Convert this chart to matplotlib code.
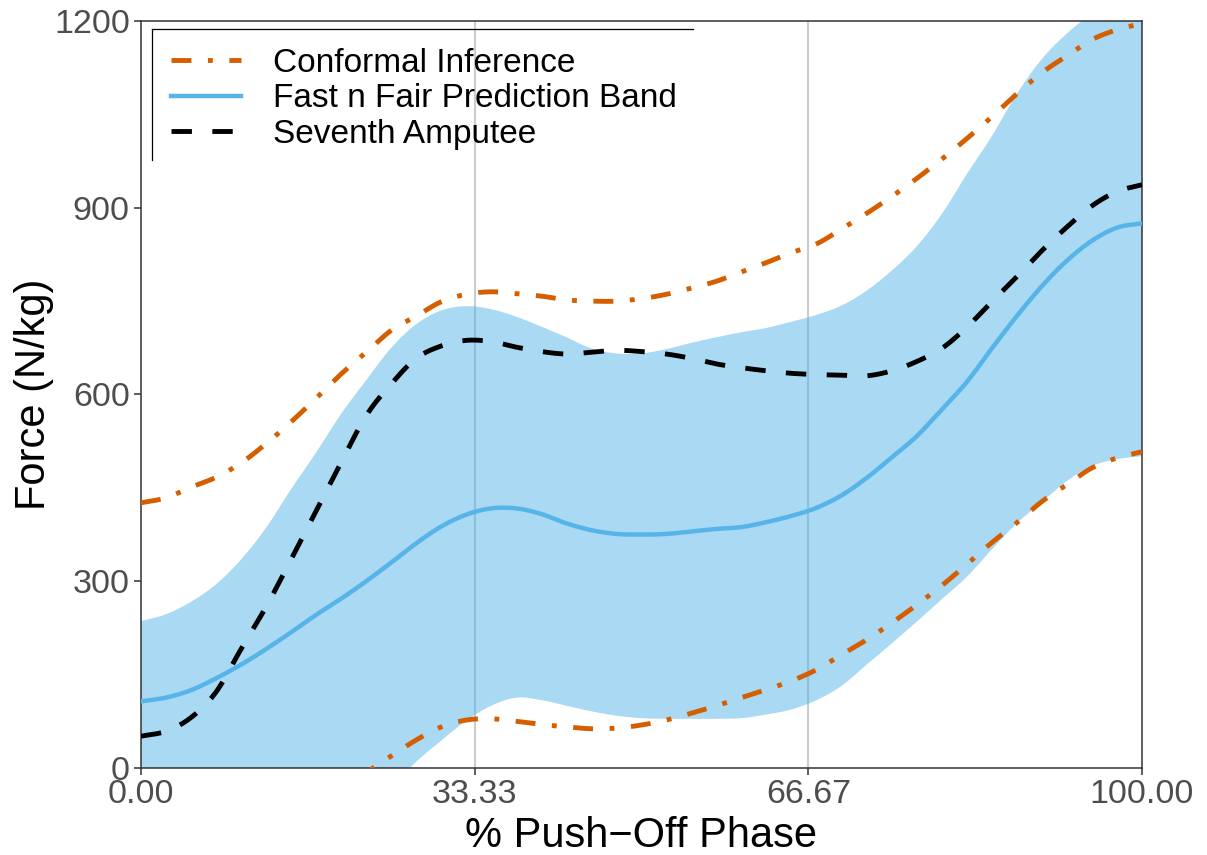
import numpy as np
import matplotlib
matplotlib.use("Agg")
import matplotlib.pyplot as plt
from matplotlib.lines import Line2D

plt.rcParams['font.family'] = ['Liberation Sans', 'DejaVu Sans']

# % of push-off phase
phase = [0, 2.5, 5, 7.5, 10, 12.5, 15, 17.5, 20, 22.5, 25, 27.5, 30, 32.5, 35,
         37.5, 40, 42.5, 45, 47.5, 50, 52.5, 55, 57.5, 60, 62.5, 65, 67.5, 70,
         72.5, 75, 77.5, 80, 82.5, 85, 87.5, 90, 92.5, 95, 97.5, 100]

conformal_upper = [426, 434, 451, 467, 490, 521, 556, 594, 633, 668, 703, 726,
                   749, 761, 765, 762, 758, 752, 750, 750, 754, 761, 771, 782,
                   797, 812, 828, 842, 866, 891, 918, 947, 978, 1011, 1046,
                   1083, 1117, 1144, 1170, 1186, 1196]
conformal_lower = [-260, -240, -220, -198, -175, -150, -124, -96, -66, -10, 19,
                   45, 66, 77, 79, 75, 70, 66, 63, 64, 69, 77, 88, 100, 113,
                   126, 140, 158, 182, 206, 233, 262, 293, 327, 362, 394, 428,
                   455, 482, 498, 508]

band_upper = [236, 247, 267, 295, 335, 386, 448, 507, 569, 623, 675, 713, 735,
              742, 737, 725, 709, 692, 674, 666, 666, 673, 683, 692, 700, 707,
              717, 728, 743, 767, 799, 838, 890, 954, 1015, 1083, 1139, 1180,
              1212, 1240, 1260]
band_lower = [-200, -190, -180, -168, -155, -140, -124, -106, -86, -62, -30, 10,
              44, 76, 100, 113, 109, 100, 91, 84, 80, 79, 79, 79, 80, 86, 94,
              109, 132, 166, 200, 235, 271, 307, 351, 393, 427, 461, 485, 496,
              501]
band_center = [107, 113, 125, 144, 166, 191, 218, 246, 272, 300, 330, 361, 388,
               407, 417, 417, 408, 393, 382, 376, 375, 376, 380, 384, 387, 395,
               405, 418, 438, 466, 499, 533, 576, 620, 674, 726, 774, 815, 847,
               868, 875]

amputee = [51, 59, 81, 122, 191, 259, 335, 413, 491, 566, 617, 658, 678, 687,
           685, 676, 669, 665, 668, 671, 669, 665, 658, 649, 643, 638, 634, 632,
           631, 630, 638, 653, 674, 708, 749, 789, 831, 869, 903, 926, 937]

x_ticks = [0, 33.33, 66.67, 100]
x_tick_labels = ["0.00", "33.33", "66.67", "100.00"]
y_ticks = [0, 300, 600, 900, 1200]

ORANGE = "#D55E00"
SKY = "#56B4E9"
DASHDOT = (0, (4.1, 3.4, 1.0, 3.4))
DASHED = (0, (4.2, 4.2))


def smooth(xs, ys, n=12):
    """Cubic Hermite curve through the given points (Catmull-Rom slopes)."""
    xs = np.asarray(xs, float)
    ys = np.asarray(ys, float)
    m = np.gradient(ys, xs)
    out_x, out_y = [], []
    for i in range(len(xs) - 1):
        h = xs[i + 1] - xs[i]
        t = np.linspace(0, 1, n, endpoint=False)
        h00 = 2 * t**3 - 3 * t**2 + 1
        h10 = t**3 - 2 * t**2 + t
        h01 = -2 * t**3 + 3 * t**2
        h11 = t**3 - t**2
        out_x.append(xs[i] + t * h)
        out_y.append(h00 * ys[i] + h10 * h * m[i] + h01 * ys[i + 1] + h11 * h * m[i + 1])
    out_x.append([xs[-1]])
    out_y.append([ys[-1]])
    return np.concatenate(out_x), np.concatenate(out_y)


fig = plt.figure(figsize=(12.07, 8.55), dpi=100)
ax = fig.add_axes([0.1168, 0.1018, 0.8293, 0.8736])

for xv in x_ticks[1:3]:
    ax.axvline(xv, color="#CCCCCC", lw=1.5, zorder=0)

sx, su = smooth(phase, band_upper)
_, sl = smooth(phase, band_lower)
ax.fill_between(sx, sl, su, color=SKY, alpha=0.5, lw=0, zorder=1)

lw = 3.5
ax.plot(*smooth(phase, conformal_upper), color=ORANGE, lw=lw,
        linestyle=DASHDOT, dash_capstyle="butt", zorder=3)
ax.plot(*smooth(phase, conformal_lower), color=ORANGE, lw=lw,
        linestyle=DASHDOT, dash_capstyle="butt", zorder=3)
ax.plot(*smooth(phase, band_center), color=SKY, lw=3.2, zorder=3)
ax.plot(*smooth(phase, amputee), color="black", lw=lw,
        linestyle=DASHED, dash_capstyle="butt", zorder=4)

ax.set_xlim(0, 100)
ax.set_ylim(0, 1200)
ax.set_xticks(x_ticks)
ax.set_xticklabels(x_tick_labels)
ax.set_yticks(y_ticks)
ax.tick_params(axis="both", labelsize=24.5, labelcolor="#4D4D4D", color="#333333",
               length=5, width=1.1, pad=3)
for sp in ax.spines.values():
    sp.set_color("#333333")
    sp.set_linewidth(1.1)

ax.set_xlabel("% Push\u2212Off Phase", fontsize=30, labelpad=4)
ax.set_ylabel("Force (N/kg)", fontsize=30, labelpad=0)

handles = [
    Line2D([], [], color=ORANGE, lw=lw, linestyle=DASHDOT, dash_capstyle="butt"),
    Line2D([], [], color=SKY, lw=3.2),
    Line2D([], [], color="black", lw=lw, linestyle=DASHED, dash_capstyle="butt"),
]
labels = ["Conformal Inference", "Fast n Fair Prediction Band", "Seventh Amputee"]
ax.legend(handles, labels, loc="upper left", bbox_to_anchor=(0.0115, 0.989),
          frameon=False, fontsize=24, handlelength=2.1, handletextpad=0.96,
          labelspacing=0.135, borderaxespad=0, borderpad=0.56)

# legend frame edges (top and left)
ax.plot([0.0115, 0.551], [0.989, 0.989], transform=ax.transAxes, color="black",
        lw=0.9, clip_on=False, zorder=5)
ax.plot([0.0115, 0.0115], [0.989, 0.814], transform=ax.transAxes, color="black",
        lw=0.9, clip_on=False, zorder=5)

fig.savefig("out.png", dpi=100)
